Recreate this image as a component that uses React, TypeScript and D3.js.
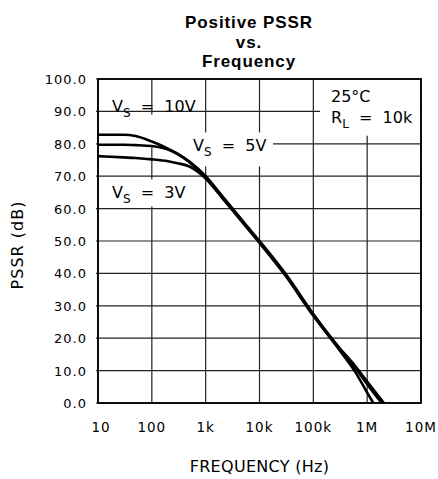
import * as d3 from 'd3';

// PSRR (dB), one array per supply voltage
const freqHz = [10, 30, 50, 100, 200, 300, 500, 1e3, 2e3, 3e3, 5e3, 1e4, 3e4, 1e5, 3e5, 6e5, 1e6];
const psrrVs10 = [82.8, 82.8, 82.4, 80.7, 78.5, 77.0, 74.5, 70.0, 64.0, 60.5, 56.0, 50.0, 40.0, 27.5, 17.2, 11.4, 6.6];
const psrrVs5 = [79.7, 79.7, 79.6, 79.3, 78.2, 76.8, 74.3, 69.7, 63.7, 60.2, 55.7, 49.7, 39.7, 27.2, 16.9, 10.9, 5.8];
const psrrVs3 = [76.2, 75.8, 75.6, 75.2, 74.6, 74.0, 73.0, 69.3, 63.4, 59.9, 55.4, 49.4, 39.4, 26.9, 16.5, 9.6, 3.2];
const zeroCrossHz = [2.05e6, 1.85e6, 1.3e6];

const xTicks = [10, 100, 1e3, 1e4, 1e5, 1e6, 1e7];
const xTickLabels = ['10', '100', '1k', '10k', '100k', '1M', '10M'];
const yTicks = [0, 10, 20, 30, 40, 50, 60, 70, 80, 90, 100];

const W = 438;
const H = 479;
const margin = { top: 79, right: 17, bottom: 76, left: 98 };
const FONT = '"DejaVu Sans", sans-serif';

export default function App() {
  const x = d3.scaleLog().domain([10, 1e7]).range([margin.left, W - margin.right]);
  const y = d3.scaleLinear().domain([0, 100]).range([H - margin.bottom, margin.top]);

  const series = [psrrVs10, psrrVs5, psrrVs3].map((vals, i) => {
    const pts = freqHz.map((f, j) => [f, vals[j]] as [number, number]);
    pts.push([zeroCrossHz[i], 0]);
    return pts;
  });

  const line = d3.line<[number, number]>()
    .x(d => x(d[0]))
    .y(d => y(d[1]))
    .curve(d3.curveMonotoneX);

  const fmt = d3.format('.1f');
  const [x0, x1] = x.range();
  const [y0, y1] = y.range();

  // white patches behind the in-plot labels (they break the grid)
  const gaps = [
    { x: x0 + 1, y: y(89), w: x(1000) - 3 - x0 - 1, h: y(86) - y(96) - 1 },
    { x: 182, y: y(83.5), w: 91, h: 34 },
    { x: x0 + 1, y: y(69), w: 88, h: 27 },
    { x: 320, y: y1 + 1, w: x1 - 320 - 1, h: y(82.5) - y1 - 1 },
  ];

  const sub = (main: string, s: string, rest: string, px: number, py: number) => (
    <text x={px} y={py} fontFamily={FONT} fontSize={16} fill="#000" style={{ whiteSpace: 'pre' }}>
      <tspan>{main}</tspan>
      <tspan fontSize={12} dy={5}>{s}</tspan>
      <tspan dy={-5}>{rest}</tspan>
    </text>
  );

  return (
    <div style={{ position: 'fixed', left: 0, top: 0, background: '#fff' }}>
      <svg width={W} height={H} viewBox={`0 0 ${W} ${H}`} style={{ display: 'block' }}>
        <rect width={W} height={H} fill="#fff" />

        {/* title */}
        <g fontFamily='"Liberation Sans", Arial, sans-serif' fontWeight="bold" fontSize={17} letterSpacing={0.9} textAnchor="middle" fill="#000">
          <text x={249} y={28}>Positive PSSR</text>
          <text x={249} y={47.5}>vs.</text>
          <text x={249} y={67}>Frequency</text>
        </g>

        {/* grid */}
        <g stroke="#222" strokeWidth={1.2}>
          {xTicks.map(t => (
            <line key={'vx' + t} x1={x(t)} x2={x(t)} y1={y1} y2={y0} />
          ))}
          {yTicks.map(t => (
            <line key={'hy' + t} x1={x0 - 2} x2={x1} y1={y(t)} y2={y(t)} />
          ))}
        </g>

        {gaps.map((g, i) => (
          <rect key={i} x={g.x} y={g.y} width={g.w} height={g.h} fill="#fff" />
        ))}

        <rect x={x0} y={y1} width={x1 - x0} height={y0 - y1} fill="none" stroke="#000" strokeWidth={1.8} />

        {/* curves */}
        {series.map((pts, i) => (
          <path key={i} d={line(pts) || ''} fill="none" stroke="#000" strokeWidth={2.6} strokeLinejoin="round" />
        ))}

        {/* y tick labels */}
        <g fontFamily={FONT} fontSize={13} letterSpacing={1} textAnchor="end" fill="#000">
          {yTicks.map(t => (
            <text key={t} x={x0 - 11} y={y(t) + 5}>{fmt(t)}</text>
          ))}
        </g>

        {/* x tick labels */}
        <g fontFamily={FONT} fontSize={13.5} letterSpacing={1} textAnchor="middle" fill="#000">
          {xTicks.map((t, i) => (
            <text key={t} x={x(t) + (i === 0 ? 3 : 0)} y={y0 + 29}>{xTickLabels[i]}</text>
          ))}
        </g>

        {/* axis titles */}
        <text x={(x0 + x1) / 2} y={472} textAnchor="middle" fontFamily={FONT} fontSize={16} letterSpacing={0.3} fill="#000">
          FREQUENCY (Hz)
        </text>
        <text
          transform={`translate(23,${(y0 + y1) / 2 + 4}) rotate(-90)`}
          textAnchor="middle" fontFamily={FONT} fontSize={16} letterSpacing={1} fill="#000"
        >
          PSSR (dB)
        </text>

        {/* annotations */}
        {sub('V', 'S', '  =  10V', 112, 112)}
        {sub('V', 'S', '  =  5V', 193, 151)}
        {sub('V', 'S', '  =  3V', 112, 198)}
        <text x={331} y={102} fontFamily={FONT} fontSize={16} fill="#000">25°C</text>
        {sub('R', 'L', '  =  10k', 331, 123)}
      </svg>
    </div>
  );
}
